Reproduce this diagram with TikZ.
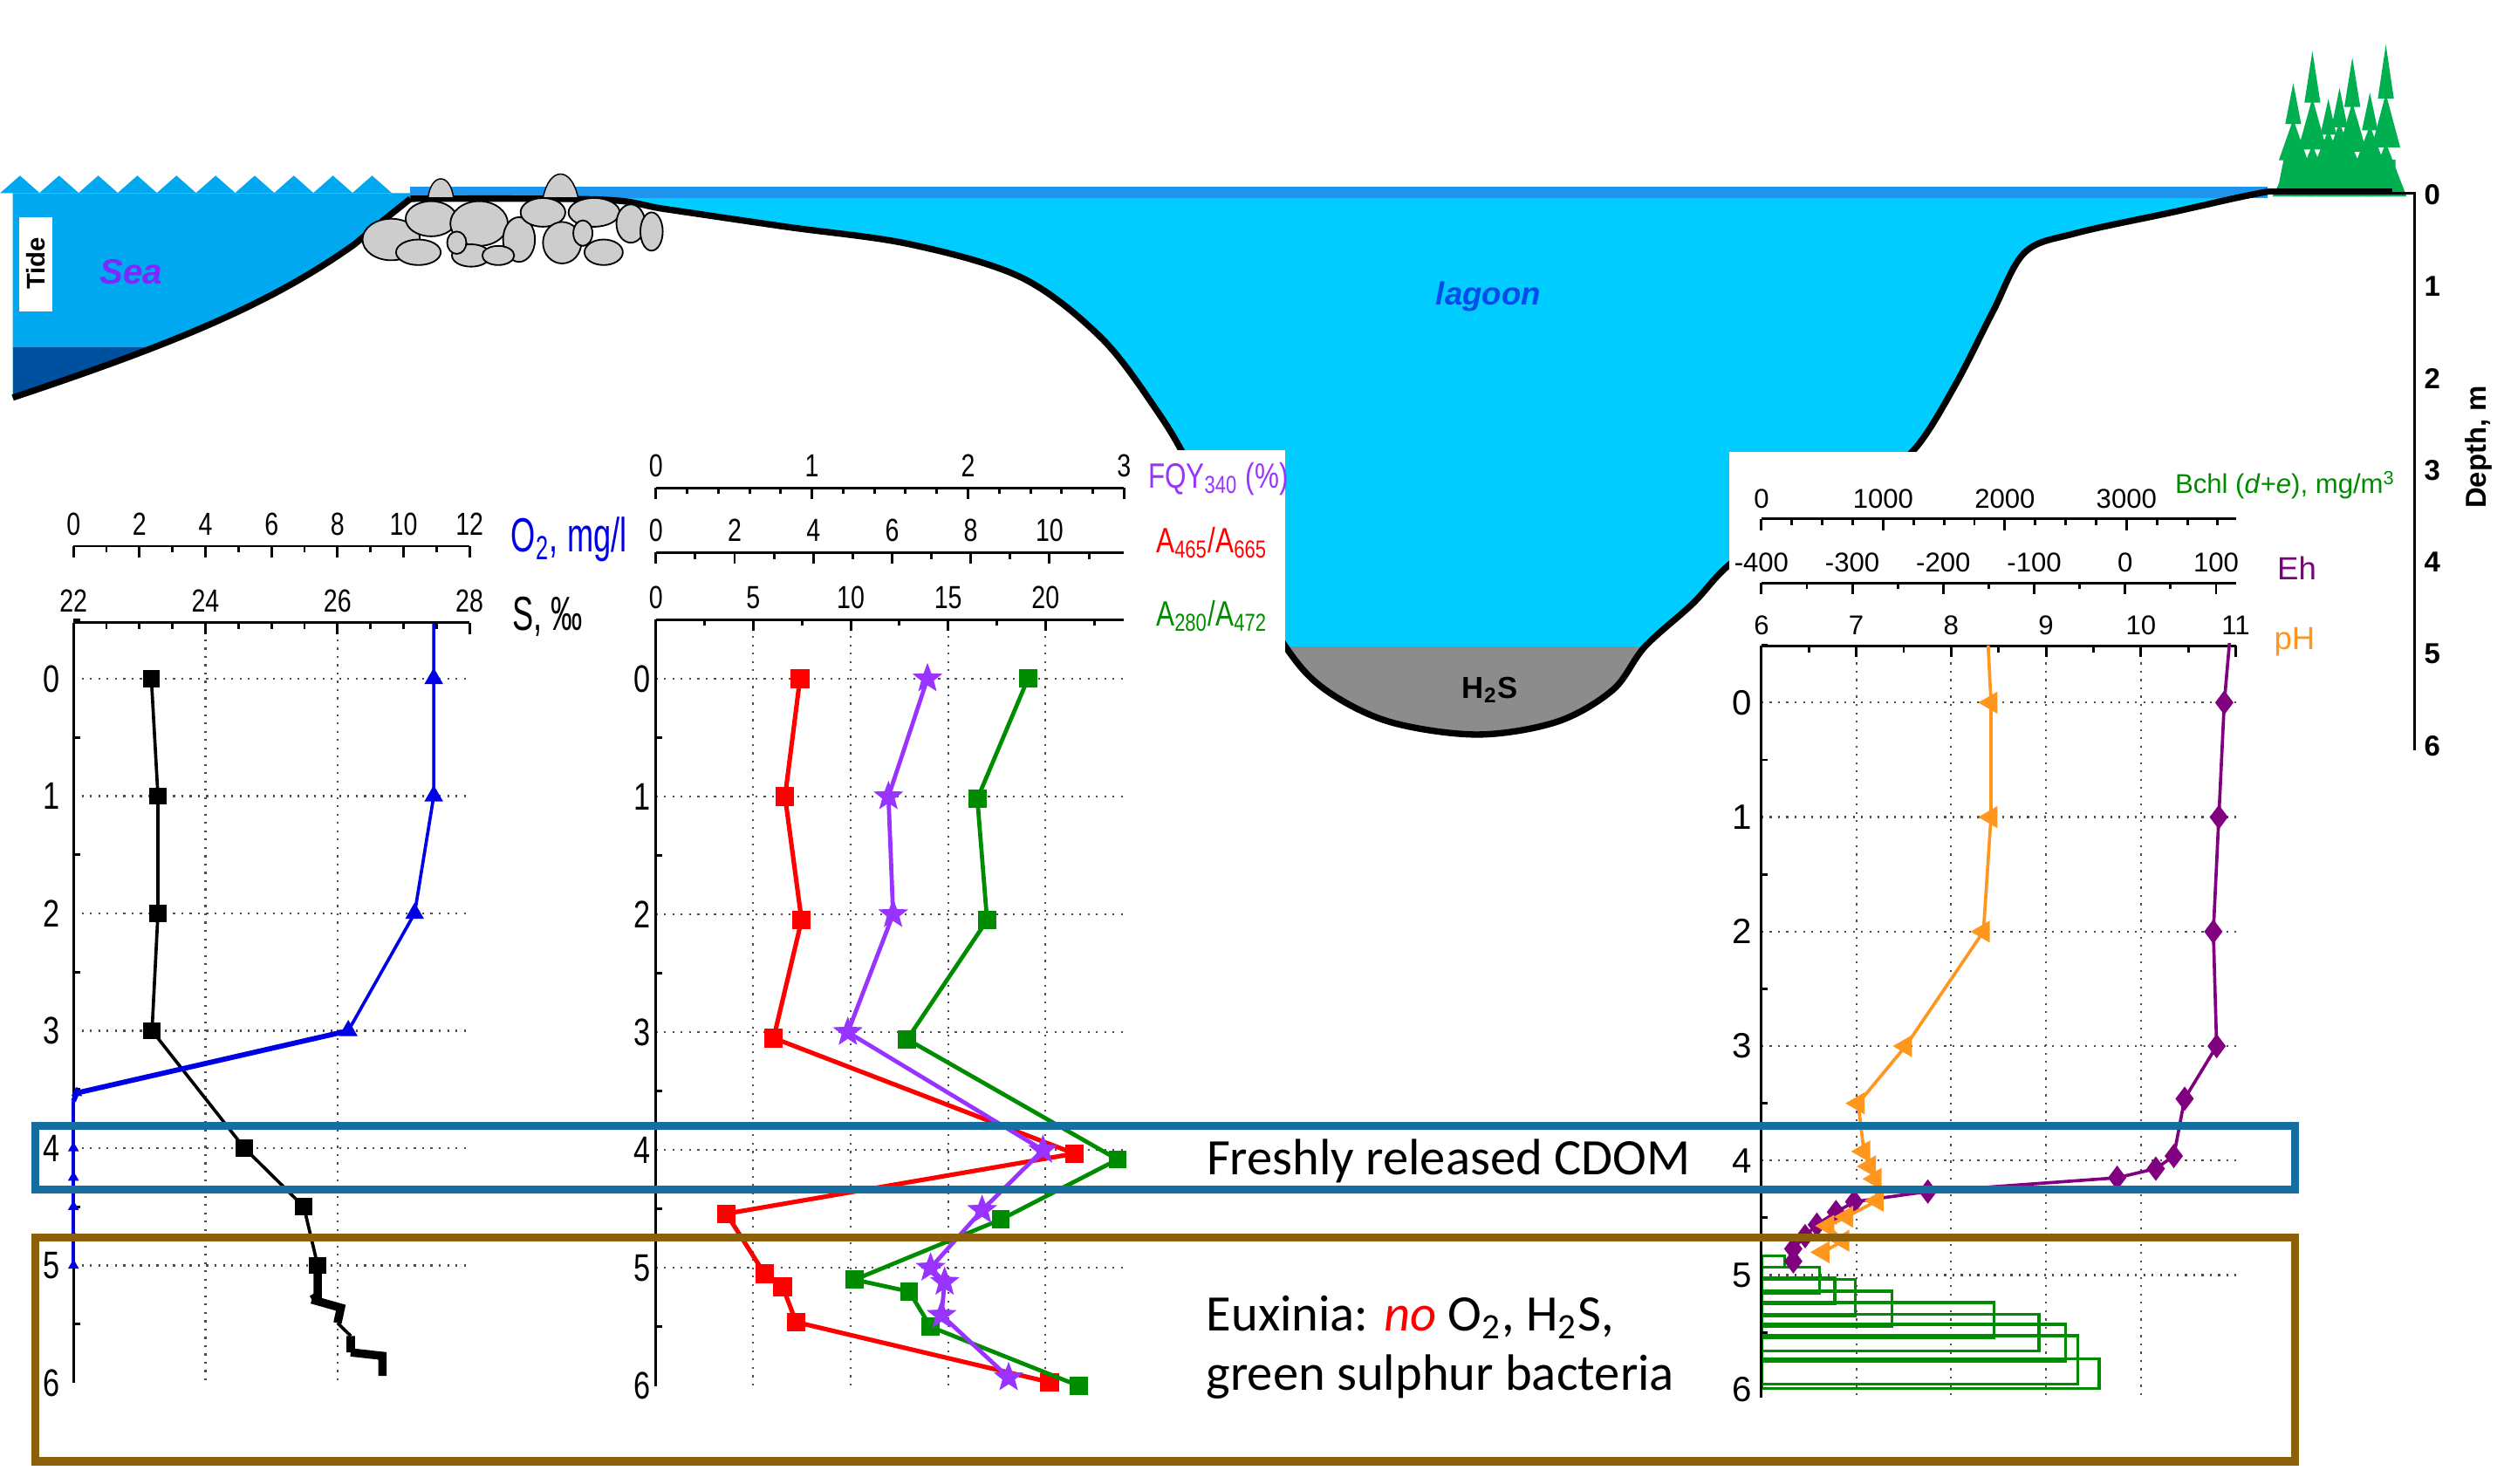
\documentclass[tikz,border=0pt]{standalone}
\usepackage{fontspec}
\setmainfont{Carlito}
\newfontfamily\narrowf{Liberation Sans}[FakeStretch=0.78]
\newfontfamily\vnarrowf{Liberation Sans}[FakeStretch=0.66]
\newfontfamily\arialf{Liberation Sans}
\usetikzlibrary{plotmarks}
\definecolor{seablue}{RGB}{0,168,240}
\definecolor{deepsea}{RGB}{0,80,160}
\definecolor{lagooncyan}{RGB}{0,204,255}
\definecolor{surfblue}{RGB}{30,150,240}
\definecolor{rockgray}{RGB}{205,205,205}
\definecolor{hsgray}{RGB}{140,140,140}
\definecolor{treegreen}{RGB}{0,176,80}
\definecolor{otwo}{RGB}{0,0,230}
\definecolor{fqy}{RGB}{153,51,255}
\definecolor{ehpurple}{RGB}{128,0,128}
\definecolor{phorange}{RGB}{255,150,30}
\definecolor{bchlgreen}{RGB}{0,140,0}
\definecolor{cdombox}{RGB}{20,110,160}
\definecolor{euxbox}{RGB}{140,96,10}
\pgfdeclareplotmark{fstar}{%
  \pgfpathmoveto{\pgfqpointpolar{90}{\pgfplotmarksize}}%
  \foreach \a in {1,...,9}{%
    \pgfmathsetmacro\rr{mod(\a,2)==0 ? 1 : 0.42}%
    \pgfpathlineto{\pgfpointpolar{90+36*\a}{\rr*\pgfplotmarksize}}}%
  \pgfpathclose\pgfusepathqfillstroke}
\tikzset{
  axisline/.style={line width=0.8pt},
  gridline/.style={dotted, line width=0.6pt, black!70},
  num/.style={font=\narrowf\fontsize{10}{10}\selectfont, inner sep=1pt},
  depthnum/.style={font=\narrowf\fontsize{12}{12}\selectfont, inner sep=1pt},
  rnum/.style={font=\arialf\fontsize{8.5}{8.5}\selectfont, inner sep=1pt},
  series/.style={line width=1pt},
  boxtext/.style={font=\fontsize{16}{19}\selectfont, inner sep=0pt}
}
\begin{document}
\begin{tikzpicture}[x=0.5pt,y=-0.5pt]
\useasboundingbox (0,0) rectangle (1568,929);

% ---- scene: sea, barrier, lagoon
\fill[seablue] (8,249) .. controls (110,215) and (170,190) .. (222,153) .. controls (240,138) .. (257,124.5) -- (257,121) -- (8,121) -- cycle;
\foreach \i in {0,...,9}
  \fill[seablue] (\i*24.5,121) -- (12.5+\i*24.5,110) -- (25+\i*24.5,121) -- cycle;
\begin{scope}
  \clip (8,249) .. controls (110,215) and (170,190) .. (222,153) .. controls (240,138) .. (257,124.5) -- (8,124) -- cycle;
  \fill[deepsea] (8,217.6) rectangle (260,260);
\end{scope}
\fill[white] (12,136) rectangle (33,195);
\node[rotate=90, font=\arialf\bfseries\fontsize{8}{8}\selectfont] (tide) at (22.5,165) {Tide};
\node[font=\arialf\bfseries\itshape\fontsize{11}{11}\selectfont, text=fqy!80!blue] (sea) at (82,170) {Sea};

\path[save path=\lagpath] (257,121) -- plot[smooth, tension=0.55] coordinates {(257,124.5) (376,125) (417,131) (492,142) (570,153) (640,174) (690,212) (725,258) (745,292) (770,345) (805,405) (830,432) (870,452) (925,460) (975,452) (1010,432) (1030,405) (1060,378) (1085,352) (1130,325) (1170,305) (1200,280) (1225,240) (1248,195) (1268,158) (1300,146) (1360,133) (1400,124) (1420,120)} -- (1420,121) -- cycle;
\fill[lagooncyan, use path=\lagpath];
\begin{scope}
  \clip[use path=\lagpath];
  \fill[hsgray] (700,405) rectangle (1100,470);
\end{scope}
\fill[surfblue] (257,117) rectangle (1420,124);
\draw[line width=2pt] (8,249) .. controls (110,215) and (170,190) .. (222,153) .. controls (240,138) .. (257,124.5);
\draw[line width=2pt] plot[smooth, tension=0.55] coordinates {(257,124.5) (376,125) (417,131) (492,142) (570,153) (640,174) (690,212) (725,258) (745,292) (770,345) (805,405) (830,432) (870,452) (925,460) (975,452) (1010,432) (1030,405) (1060,378) (1085,352) (1130,325) (1170,305) (1200,280) (1225,240) (1248,195) (1268,158) (1300,146) (1360,133) (1400,124) (1420,120)};

% rocks of the barrier
\foreach \cx/\cy/\rx/\ry in {245/150/18/13, 270/137/16/11, 262/158/14/8, 300/140/18/14, 295/160/12/7, 325/150/10/14, 340/133/14/9, 352/152/12/13, 372/133/16/9, 378/158/12/8, 395/140/9/12, 408/145/7/12, 312/160/10/6, 286/152/6/7, 365/146/6/8}
  \filldraw[fill=rockgray, draw=black, line width=0.5pt] (\cx,\cy) ellipse ({\rx} and {\ry});
\filldraw[fill=rockgray, draw=black, line width=0.4pt] (268,124) .. controls (270,108) and (282,108) .. (284,124) -- cycle;
\filldraw[fill=rockgray, draw=black, line width=0.4pt] (340,124) .. controls (344,104) and (358,104) .. (362,124) -- cycle;

\node[font=\arialf\bfseries\itshape\fontsize{10}{10}\selectfont, text=otwo!70!cyan] (lagoon) at (932,186) {lagoon};

% trees
\foreach \x/\t in {1436/52, 1448/32, 1458/62, 1465/55, 1473/36, 1484/58, 1494/28}
  \foreach \k in {0,1,2}
    \fill[treegreen] ({\x-5-4*\k},{\t+(\k+1)*(120-\t)/3+3}) -- (\x,{\t+\k*(120-\t)/3}) -- ({\x+5+4*\k},{\t+(\k+1)*(120-\t)/3+3}) -- cycle;
\fill[treegreen] (1426,120) -- (1430,100) -- (1500,100) -- (1500,120) -- cycle;
\draw[line width=2pt] (1420,120) -- (1498,120);

% depth scale of the scene
\draw[line width=0.6pt] (1498,121) -- (1512,121) -- (1512,470);
\foreach \d in {0,...,6}
  \node[font=\arialf\bfseries\fontsize{9}{9}\selectfont] (sd\d) at (1523,{122+57.5*\d}) {\d};
\node[rotate=90, font=\arialf\bfseries\fontsize{9}{9}\selectfont] (depthlab) at (1552,280) {Depth, m};

% white panels of the profiles
\fill[white] (405,282) rectangle (805,929);
\fill[white] (1083,283) rectangle (1505,929);
\node[font=\arialf\bfseries\fontsize{9.5}{9.5}\selectfont] (hts) at (933,432) {H\textsubscript{2}S};

% ---- left profile: S and O2
\foreach \v in {24,26} \draw[gridline] ({46+(\v-22)*41.33},390) -- ({46+(\v-22)*41.33},866);
\foreach \d in {0,...,5} \draw[gridline] (46,{425+\d*73.5}) -- (294,{425+\d*73.5});
\draw[axisline] (46,342) -- (294,342);
\foreach \v in {0,2,...,12} \draw[axisline] ({46+\v*20.67},342) -- ++(0,7) node[num, pos=0, above=2pt] {\v};
\foreach \v in {1,3,...,11} \draw[axisline] ({46+\v*20.67},342) -- ++(0,4);
\draw[axisline] (46,390) -- (294,390);
\foreach \v in {22,24,26,28} \draw[axisline] ({46+(\v-22)*41.33},390) -- ++(0,7) node[num, pos=0, above=2pt] {\v};
\foreach \v in {22.5,23,...,27.5} \draw[axisline] ({46+(\v-22)*41.33},390) -- ++(0,4);
\draw[axisline] (46,390) -- (46,866);
\foreach \d in {0,...,6} {
  \node[depthnum] (ld\d) at (32,{425+\d*73.5}) {\d};
  \draw[axisline] (46,{461.75+\d*73.5-73.5}) -- ++(4,0);
}
\node[anchor=west, font=\vnarrowf\fontsize{15}{15}\selectfont, text=otwo] (otwolab) at (313,338) {O\textsubscript{2}, mg/l};
\node[anchor=west, font=\vnarrowf\fontsize{15}{15}\selectfont] (slab) at (314,386) {S, ‰};
\begin{scope}[shift={(46,425)}, x=20.67pt, y=-36.75pt]
  \draw[series, black] plot[mark=square*, mark size=2.2pt] coordinates {(1.18,0) (1.28,1) (1.28,2) (1.19,3) (2.59,4) (3.49,4.5) (3.70,5.0)};
  \draw[line width=2.6pt, black] (3.70,5.0) -- (3.70,5.26) -- (3.61,5.29) (3.61,5.29) -- (4.05,5.36) -- (4.0,5.49) (4.2,5.6) -- (4.2,5.74) (4.2,5.74) -- (4.68,5.77) -- (4.68,5.94);
  \draw[line width=1pt] (4.0,5.49) -- (4.2,5.6) (3.61,5.29) -- (4.05,5.36);
\end{scope}
\begin{scope}[shift={(46,425)}, x=10.33pt, y=-36.75pt]
  \draw[series, otwo] (10.92,-0.47) -- (10.92,0) -- (10.92,1) -- (10.34,2) -- (8.33,3);
  \draw[line width=1.6pt, otwo] (8.33,3) -- (0.1,3.53) -- (0,3.6);
  \draw[series, otwo] (0,3.6) -- (0,5);
  \draw[otwo] plot[only marks, mark=triangle*, mark size=3pt] coordinates {(10.92,0) (10.92,1) (10.34,2) (8.33,3)};
  \draw[otwo] plot[only marks, mark=triangle*, mark size=1.6pt] coordinates {(0.1,3.53) (0,4) (0,4.25) (0,4.5) (0,4.75) (0,5)};
\end{scope}

% ---- middle profile: FQY, A465/A665, A280/A472
\foreach \v in {5,10,15,20} \draw[gridline] ({410.7+\v*12.2},388) -- ({410.7+\v*12.2},868);
\foreach \d in {0,...,5} \draw[gridline] (410.7,{425+\d*73.8}) -- (703.9,{425+\d*73.8});
\draw[axisline] (410.7,305.5) -- (703.9,305.5);
\foreach \v in {0,1,2,3} \draw[axisline] ({410.7+\v*97.73},305.5) -- ++(0,7) node[num, pos=0, above=2pt] {\v};
\foreach \v in {0.2,0.4,...,2.9} \draw[axisline] ({410.7+\v*97.73},305.5) -- ++(0,4);
\draw[axisline] (410.7,346) -- (703.9,346);
\foreach \v in {0,2,...,10} \draw[axisline] ({410.7+\v*24.65},346) -- ++(0,7) node[num, pos=0, above=2pt] {\v};
\foreach \v in {1,3,...,11} \draw[axisline] ({410.7+\v*24.65},346) -- ++(0,4);
\draw[axisline] (410.7,388) -- (703.9,388);
\foreach \v in {0,5,...,20} \draw[axisline] ({410.7+\v*12.2},388) -- ++(0,7) node[num, pos=0, above=2pt] {\v};
\foreach \v in {2.5,7.5,...,22.5} \draw[axisline] ({410.7+\v*12.2},388) -- ++(0,4);
\draw[axisline] (410.7,388) -- (410.7,868);
\foreach \d in {0,...,6} {
  \node[depthnum] (md\d) at (402,{425+\d*73.8}) {\d};
  \draw[axisline] (410.7,{461.9+\d*73.8-73.8}) -- ++(4,0);
}
\node[anchor=west, font=\narrowf\fontsize{11}{11}\selectfont, text=fqy] (fqylab) at (712,300) {FQY\textsubscript{340} (\%)};
\node[anchor=west, font=\narrowf\fontsize{11}{11}\selectfont, text=red] (redlab) at (717,340) {A\textsubscript{465}/A\textsubscript{665}};
\node[anchor=west, font=\narrowf\fontsize{11}{11}\selectfont, text=bchlgreen] (greenlab) at (717,386) {A\textsubscript{280}/A\textsubscript{472}};
\begin{scope}[shift={(410.7,425)}, x=12.33pt, y=-36.9pt]
  \draw[line width=1.4pt, red] plot[mark=square*, mark size=2.2pt, mark options={solid}] coordinates {(3.66,0) (3.28,1) (3.7,2.05) (2.99,3.05) (10.63,4.03) (1.79,4.54) (2.76,5.05) (3.22,5.16) (3.56,5.46) (10.0,5.97)};
\end{scope}
\begin{scope}[shift={(410.7,425)}, x=6.1pt, y=-36.9pt]
  \draw[line width=1.3pt, bchlgreen] plot[mark=square*, mark size=2.2pt] coordinates {(19.1,0) (16.5,1.02) (17.0,2.05) (12.9,3.06) (23.7,4.08) (17.7,4.59) (10.2,5.1) (13.0,5.2) (14.1,5.5) (21.7,6.0)};
\end{scope}
\begin{scope}[shift={(410.7,425)}, x=48.87pt, y=-36.9pt]
  \draw[line width=1.3pt, fqy] plot[mark=fstar, mark size=4.5pt, mark options={line width=0.3pt}] coordinates {(1.74,0) (1.49,1) (1.52,2) (1.23,3) (2.48,4) (2.09,4.51) (1.76,5.0) (1.85,5.12) (1.83,5.4) (2.26,5.93)};
\end{scope}

% ---- right profile: Bchl, Eh, pH
\foreach \v in {7,8,9,10} \draw[gridline] ({1103+(\v-6)*59.4},404.5) -- ({1103+(\v-6)*59.4},875);
\foreach \d in {0,...,5} \draw[gridline] (1103,{440+\d*71.7}) -- (1400,{440+\d*71.7});
\begin{scope}[shift={(1103,440)}, x=0.0381pt, y=-35.85pt]
  \foreach \a/\b/\w in {4.83/4.93/190, 4.93/5.16/479, 5.02/5.25/602, 5.04/5.36/771, 5.14/5.45/1072, 5.24/5.55/1911, 5.34/5.66/2280, 5.43/5.75/2500, 5.53/5.95/2602, 5.73/5.99/2775}
    \draw[bchlgreen, line width=0.9pt] (0,\a) rectangle (\w,\b);
\end{scope}
\draw[axisline] (1103,325) -- (1400,325);
\foreach \v in {0,1000,2000,3000} \draw[axisline] ({1103+\v*0.0762},325) -- ++(0,7) node[rnum, pos=0, above=2pt] {\v};
\foreach \v in {250,500,...,3750} \draw[axisline] ({1103+\v*0.0762},325) -- ++(0,4);
\draw[axisline] (1103,365) -- (1400,365);
\foreach \v in {-400,-300,-200,-100,0,100} \draw[axisline] ({1103+(\v+400)*0.5694},365) -- ++(0,7) node[rnum, pos=0, above=2pt] {\v};
\foreach \v in {-350,-250,-150,-50,50} \draw[axisline] ({1103+(\v+400)*0.5694},365) -- ++(0,4);
\draw[axisline] (1103,404.5) -- (1400,404.5);
\foreach \v in {6,...,11} \draw[axisline] ({1103+(\v-6)*59.4},404.5) -- ++(0,7) node[rnum, pos=0, above=2pt] {\v};
\foreach \v in {6.5,7.5,8.5,9.5,10.5} \draw[axisline] ({1103+(\v-6)*59.4},404.5) -- ++(0,4);
\draw[axisline] (1103,404.5) -- (1103,875);
\foreach \d in {0,...,6} {
  \node[rnum, font=\arialf\fontsize{11}{11}\selectfont] (rd\d) at (1091,{440+\d*71.7}) {\d};
  \draw[axisline] (1103,{475.85+\d*71.7-71.7}) -- ++(4,0);
}
\node[anchor=west, font=\arialf\fontsize{8.5}{8.5}\selectfont, text=bchlgreen] (bchllab) at (1355,304) {Bchl (\textit{d}+\textit{e}), mg/m\textsuperscript{3}};
\node[anchor=west, font=\arialf\fontsize{10}{10}\selectfont, text=ehpurple] (ehlab) at (1419,356) {Eh};
\node[anchor=west, font=\arialf\fontsize{10}{10}\selectfont, text=phorange] (phlab) at (1417,402) {pH};
\begin{scope}[shift={(1103,440)}, x=0.2847pt, y=-35.85pt]
  \draw[series, ehpurple] (514.7,-0.52) -- (509,0);
  \draw[series, ehpurple] plot[mark=diamond*, mark size=3pt] coordinates {(509,0) (503,1) (497,2) (500.6,3) (465.4,3.46) (453.5,3.96) (433.7,4.07) (391.2,4.15) (183,4.27) (102,4.36) (82,4.45) (61,4.56) (48,4.66) (35,4.77) (35,4.88)};
\end{scope}
\begin{scope}[shift={(1103,440)}, x=29.7pt, y=-35.85pt]
  \draw[series, phorange] (2.39,-0.5) -- (2.42,0);
  \draw[series, phorange] plot[mark=triangle*, mark size=3pt, mark options={rotate=90}] coordinates {(2.42,0) (2.42,1) (2.34,2) (1.52,3) (1.02,3.5) (1.08,3.92) (1.14,4.05) (1.2,4.16) (1.22,4.35) (0.9,4.49) (0.7,4.57) (0.86,4.7) (0.65,4.8)};
\end{scope}

% ---- highlighted layers
\draw[cdombox, line width=2.6pt] (22,705) rectangle (1437,745);
\draw[euxbox, line width=2.6pt] (22,775) rectangle (1437,915);
\node[boxtext] (cdom) at (907,727) {Freshly released CDOM};
\node[boxtext, anchor=west] (eux1) at (755,825) {Euxinia: \textcolor{red}{\textit{no}} O\textsubscript{2}, H\textsubscript{2}S,};
\node[boxtext, anchor=west] (eux2) at (755,862) {green sulphur bacteria};
\end{tikzpicture}
\end{document}
